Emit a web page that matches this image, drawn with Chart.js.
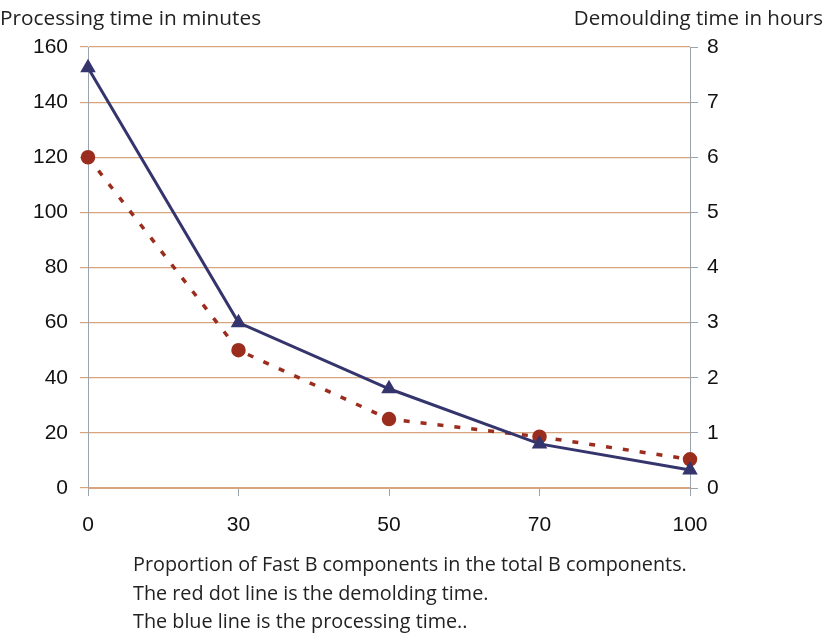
<!DOCTYPE html>
<html>
<head>
<meta charset="utf-8">
<script src="https://cdn.jsdelivr.net/npm/chart.js@4"></script>
<style>
  html, body { margin: 0; padding: 0; background: #fff; }
  #wrap { position: relative; width: 829px; height: 639px; }
  #c { position: absolute; left: 0; top: 0; }
  .t { position: absolute; font-family: "Open Sans", "Noto Sans", sans-serif; font-size: 19.8px; color: #222; white-space: nowrap; line-height: 1; }
</style>
</head>
<body>
<div id="wrap">
  <canvas id="c" width="829" height="639"></canvas>
  <div class="t" style="left:0px;top:7px;font-size:20.8px;">Processing time in minutes</div>
  <div class="t" style="right:6px;top:7px;font-size:20.5px;">Demoulding time in hours</div>
  <div class="t" style="left:133px;top:554px;">Proportion of Fast B components in the total B components.</div>
  <div class="t" style="left:133px;top:583px;">The red dot line is the demolding time.</div>
  <div class="t" style="left:133px;top:611px;">The blue line is the processing time..</div>
</div>
<script>
const categories = ["0", "30", "50", "70", "100"];
const processingMinutes = [152.5, 60, 36, 16, 6.5];
const demouldingHours = [6, 2.5, 1.25, 0.93, 0.52];
const leftTicks = [0, 20, 40, 60, 80, 100, 120, 140, 160];
const rightTicks = [0, 1, 2, 3, 4, 5, 6, 7, 8];

const tickFont = { family: "Liberation Sans, Arial, sans-serif", size: 21 };
const gridColor = "#d8a47e";
const axisColor = "#9aa4ae";

new Chart(document.getElementById("c"), {
  type: "line",
  data: {
    labels: categories,
    datasets: [
      {
        label: "Processing time",
        data: processingMinutes,
        yAxisID: "y",
        borderColor: "#35356e",
        backgroundColor: "#35356e",
        borderWidth: 3,
        pointStyle: "triangle",
        pointRadius: 6,
        pointHoverRadius: 6,
        tension: 0,
        order: 1
      },
      {
        label: "Demoulding time",
        data: demouldingHours,
        yAxisID: "y1",
        borderColor: "#9b2d1e",
        backgroundColor: "#9b2d1e",
        borderWidth: 3.5,
        borderDash: [6, 11],
        pointStyle: "circle",
        pointRadius: 5.5,
        pointHoverRadius: 5.5,
        tension: 0,
        order: 2
      }
    ]
  },
  options: {
    responsive: false,
    animation: false,
    devicePixelRatio: 1,
    layout: { padding: { left: 0, right: 0, top: 47, bottom: 0 } },
    plugins: { legend: { display: false }, tooltip: { enabled: false } },
    scales: {
      x: {
        type: "category",
        offset: false,
        afterFit: (s) => { s.height = 151; },
        grid: { drawOnChartArea: false, drawTicks: true, tickLength: 8, color: axisColor },
        border: { display: true, color: gridColor },
        ticks: { font: tickFont, color: "#111", padding: 17, maxRotation: 0 }
      },
      y: {
        position: "left",
        min: 0, max: 160,
        afterFit: (s) => { s.width = 88; },
        afterBuildTicks: (s) => { s.ticks = leftTicks.map(v => ({ value: v })); },
        grid: { color: gridColor, tickLength: 8, lineWidth: 1.2 },
        border: { display: true, color: axisColor },
        ticks: { font: tickFont, color: "#111", padding: 12 }
      },
      y1: {
        position: "right",
        min: 0, max: 8,
        afterFit: (s) => { s.width = 139; },
        afterBuildTicks: (s) => { s.ticks = rightTicks.map(v => ({ value: v })); },
        grid: { drawOnChartArea: false, drawTicks: true, tickLength: 8, color: axisColor },
        border: { display: true, color: axisColor },
        ticks: { font: tickFont, color: "#111", padding: 9 }
      }
    }
  }
});
</script>
</body>
</html>
